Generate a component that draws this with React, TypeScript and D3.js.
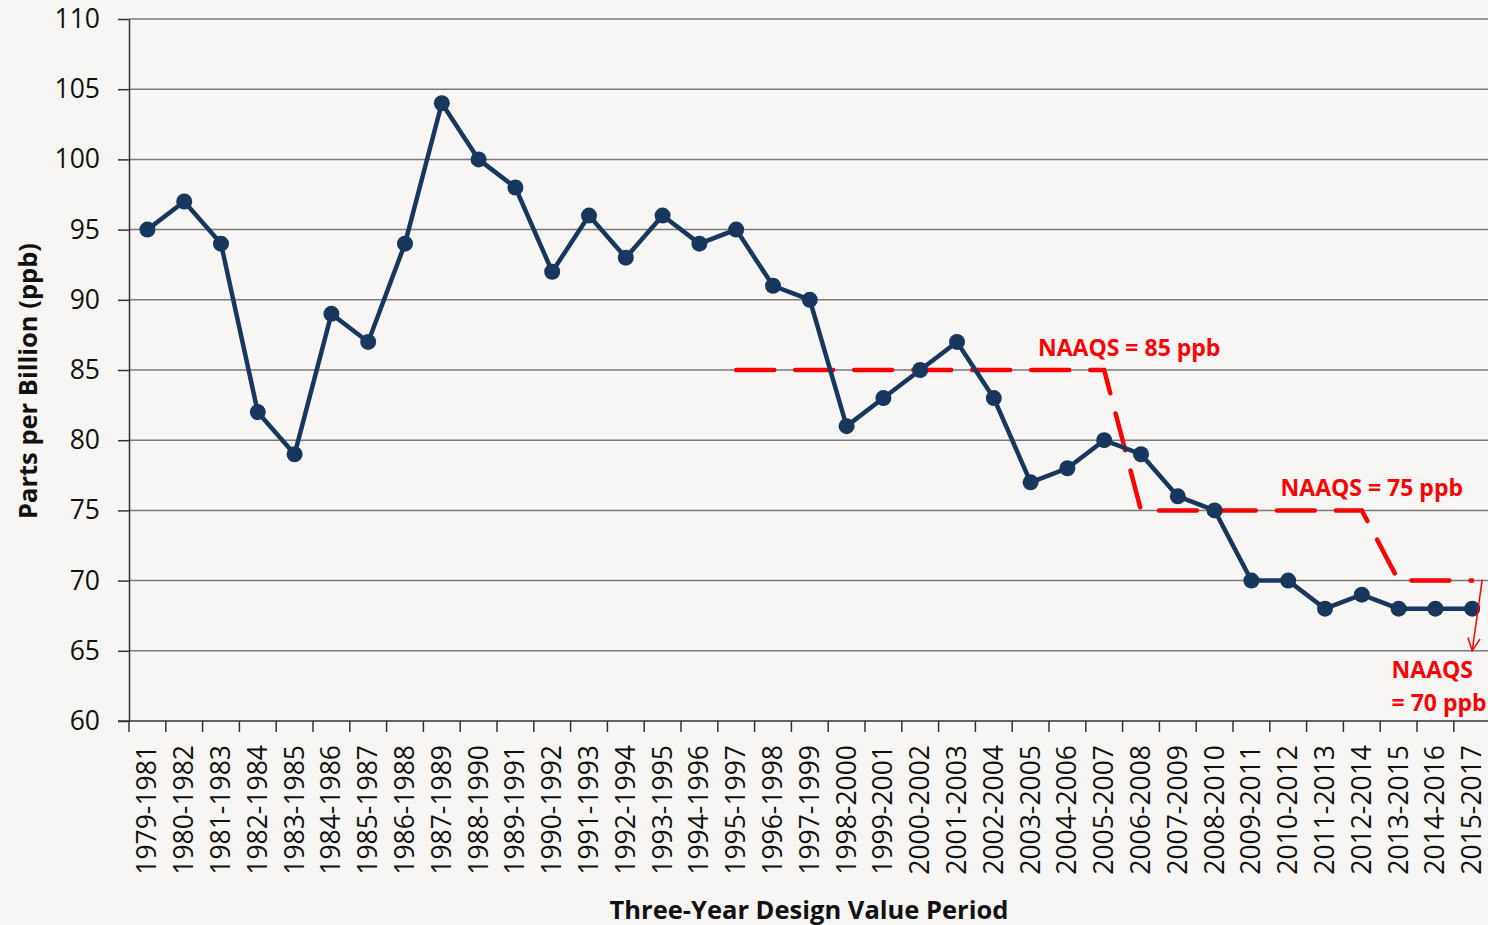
import React, { useRef, useEffect } from 'react';
import * as d3 from 'd3';

const periods = [
  '1979-1981', '1980-1982', '1981-1983', '1982-1984', '1983-1985', '1984-1986', '1985-1987',
  '1986-1988', '1987-1989', '1988-1990', '1989-1991', '1990-1992', '1991-1993', '1992-1994',
  '1993-1995', '1994-1996', '1995-1997', '1996-1998', '1997-1999', '1998-2000', '1999-2001',
  '2000-2002', '2001-2003', '2002-2004', '2003-2005', '2004-2006', '2005-2007', '2006-2008',
  '2007-2009', '2008-2010', '2009-2011', '2010-2012', '2011-2013', '2012-2014', '2013-2015',
  '2014-2016', '2015-2017',
];

const ozone = [
  95, 97, 94, 82, 79, 89, 87, 94, 104, 100, 98, 92, 96, 93, 96, 94, 95, 91, 90, 81, 83,
  85, 87, 83, 77, 78, 80, 79, 76, 75, 70, 70, 68, 69, 68, 68, 68,
];

// standard in force, starting with 1995-1997
const naaqsStart = 16;
const naaqs = [85, 85, 85, 85, 85, 85, 85, 85, 85, 85, 85, 75, 75, 75, 75, 75, 75, 75, 70, 70, 70];

const yTicks = [60, 65, 70, 75, 80, 85, 90, 95, 100, 105, 110];

const FONT = "'Open Sans', sans-serif";

function App() {
  const svgRef = useRef(null);

  useEffect(() => {
    const svg = d3.select(svgRef.current);
    svg.selectAll('*').remove();

    const width = 1488;
    const height = 925;
    const left = 129, top = 19, bottom = 721;

    svg.append('rect').attr('width', width).attr('height', height).attr('fill', '#f7f6f4');

    const x = d3.scaleBand().domain(periods).range([left, left + 36.8 * periods.length]).padding(0);
    const xc = (i) => x(periods[i]) + x.bandwidth() / 2;
    const y = d3.scaleLinear().domain([60, 110]).range([bottom, top]);

    // gridlines
    svg.append('g')
      .selectAll('line')
      .data(yTicks.slice(1))
      .enter().append('line')
      .attr('x1', left).attr('x2', width)
      .attr('y1', d => y(d)).attr('y2', d => y(d))
      .attr('stroke', '#7a7a7a').attr('stroke-width', 1.5);

    // y axis
    const yAxis = svg.append('g')
      .attr('transform', `translate(${left},0)`)
      .call(d3.axisLeft(y).tickValues(yTicks).tickSize(11).tickSizeOuter(0).tickPadding(18));
    yAxis.select('.domain').attr('stroke', '#333').attr('stroke-width', 1.5);
    yAxis.selectAll('.tick line').attr('stroke', '#333').attr('stroke-width', 1.5);
    yAxis.selectAll('text').attr('font-family', FONT).attr('font-size', 26.5).attr('fill', '#111');

    // x axis
    const xg = svg.append('g').attr('transform', `translate(0,${bottom})`);
    xg.append('line').attr('x1', left - 11).attr('x2', width).attr('stroke', '#333').attr('stroke-width', 1.5);
    xg.selectAll('line.tk')
      .data(periods)
      .enter().append('line')
      .attr('class', 'tk')
      .attr('x1', d => x(d)).attr('x2', d => x(d))
      .attr('y1', 0).attr('y2', 11)
      .attr('stroke', '#333').attr('stroke-width', 1.5);
    xg.selectAll('text')
      .data(periods)
      .enter().append('text')
      .attr('transform', d => `translate(${x(d) + x.bandwidth() / 2 + 9},24) rotate(-90)`)
      .attr('text-anchor', 'end')
      .attr('font-family', FONT)
      .attr('font-size', 26.5)
      .attr('fill', '#111')
      .text(d => d);

    // axis titles
    svg.append('text')
      .attr('transform', `translate(37,${(top + bottom) / 2 + 11}) rotate(-90)`)
      .attr('text-anchor', 'middle')
      .attr('font-family', FONT).attr('font-weight', 700).attr('font-size', 25.5)
      .attr('fill', '#111')
      .text('Parts per Billion (ppb)');
    svg.append('text')
      .attr('x', 809).attr('y', 919)
      .attr('text-anchor', 'middle')
      .attr('font-family', FONT).attr('font-weight', 700).attr('font-size', 25.5)
      .attr('fill', '#111')
      .text('Three-Year Design Value Period');

    // NAAQS dashed line
    const naaqsLine = d3.line()
      .x((d, i) => xc(naaqsStart + i))
      .y(d => y(d));
    svg.append('path')
      .datum(naaqs)
      .attr('fill', 'none')
      .attr('stroke', '#ff0000')
      .attr('stroke-width', 4.5)
      .attr('stroke-linecap', 'round')
      .attr('stroke-dasharray', '38 21')
      .attr('d', naaqsLine);

    // ozone series
    const line = d3.line()
      .x((d, i) => xc(i))
      .y(d => y(d));
    svg.append('path')
      .datum(ozone)
      .attr('fill', 'none')
      .attr('stroke', '#17375e')
      .attr('stroke-width', 4.5)
      .attr('d', line);
    svg.selectAll('circle.pt')
      .data(ozone)
      .enter().append('circle')
      .attr('class', 'pt')
      .attr('cx', (d, i) => xc(i))
      .attr('cy', d => y(d))
      .attr('r', 8)
      .attr('fill', '#17375e');

    // labels
    const label = (tx, ty, txt, anchor) => svg.append('text')
      .attr('x', tx).attr('y', ty)
      .attr('text-anchor', anchor)
      .attr('font-family', FONT).attr('font-weight', 700).attr('font-size', 23)
      .attr('fill', '#ff0000')
      .text(txt);
    label(xc(26) + 25, y(85) - 14, 'NAAQS = 85 ppb', 'middle');
    label(xc(33) + 10, y(75) - 14, 'NAAQS = 75 ppb', 'middle');
    label(xc(34) - 7, y(65) + 27, 'NAAQS', 'start');
    label(xc(34) - 7, y(65) + 60, '= 70 ppb', 'start');

    // arrow to the last point
    const ax1 = xc(36) + 10, ay1 = y(70) - 1, ax2 = xc(36), ay2 = y(65);
    svg.append('line')
      .attr('x1', ax1).attr('y1', ay1).attr('x2', ax2).attr('y2', ay2)
      .attr('stroke', '#ff0000').attr('stroke-width', 1.5);
    const ang = Math.atan2(ay2 - ay1, ax2 - ax1);
    const head = [-0.45, 0.45].map(a => [ax2 - 14 * Math.cos(ang + a), ay2 - 14 * Math.sin(ang + a)]);
    svg.append('path')
      .attr('d', `M${head[0][0]},${head[0][1]}L${ax2},${ay2}L${head[1][0]},${head[1][1]}`)
      .attr('fill', 'none').attr('stroke', '#ff0000').attr('stroke-width', 1.5);
  }, []);

  return (
    <svg
      ref={svgRef}
      width={1488}
      height={925}
      style={{ position: 'absolute', left: 0, top: 0, display: 'block' }}
    />
  );
}

export default App;
